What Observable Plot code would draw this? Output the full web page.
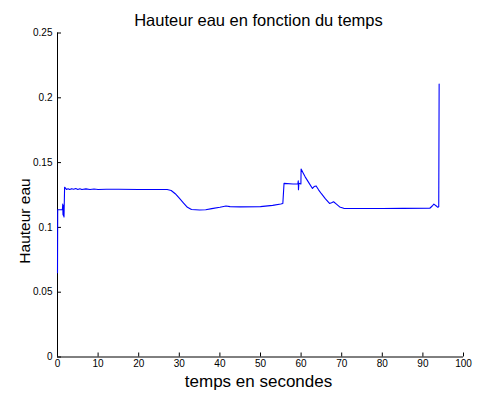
<!DOCTYPE html>
<html>
<head>
<meta charset="utf-8">
<script src="https://cdn.jsdelivr.net/npm/d3@7"></script>
<script src="https://cdn.jsdelivr.net/npm/@observablehq/plot@0.6"></script>
<style>
  html, body { margin: 0; padding: 0; background: #fff; }
  #chart { width: 478px; height: 398px; }
  svg { font-family: "Liberation Sans", Arial, Helvetica, sans-serif; }
</style>
</head>
<body>
<div id="chart"></div>
<script>
const title = "Hauteur eau en fonction du temps";
const xLabel = "temps en secondes";
const yLabel = "Hauteur eau";
const xTicks = [0, 10, 20, 30, 40, 50, 60, 70, 80, 90, 100];
const yTicks = [0, 0.05, 0.1, 0.15, 0.2, 0.25];

const temps = [
  0, 0.05, 0.3, 1.2, 1.3, 1.35, 1.4, 1.45, 1.5, 1.6, 1.75,
  2.2, 2.6, 3.0, 3.5, 4.0, 4.5, 5.0, 5.5, 6.0, 7.0, 8.0, 9.0, 10, 12, 15, 20, 25, 27,
  28, 29, 30, 31, 32, 33, 35, 36.5, 38, 40, 41.5, 42.5, 45, 50, 53, 55, 55.5,
  55.8, 58, 59.2, 59.3, 59.35, 59.45, 59.95, 60.0, 60.5, 61, 62, 62.8, 63.2, 63.7,
  64.3, 65, 66, 67, 67.5, 68, 68.7, 69.5, 70.5, 75, 80, 85, 91.7, 92.3, 92.7, 93.3,
  93.7, 93.9, 94.0
];
const hauteur = [
  0.065, 0.1136, 0.1136, 0.1136, 0.118, 0.110, 0.117, 0.109, 0.116, 0.108, 0.131,
  0.1293, 0.1298, 0.1292, 0.1299, 0.1294, 0.1300, 0.1293, 0.1298, 0.1292, 0.1297, 0.1292, 0.1296, 0.1293, 0.1294, 0.1294, 0.1293, 0.1293, 0.1292,
  0.1285, 0.126, 0.1225, 0.119, 0.1155, 0.1138, 0.1134, 0.1136, 0.1145, 0.1155, 0.1165, 0.116, 0.1158, 0.116, 0.117, 0.118, 0.1185,
  0.134, 0.1335, 0.1335, 0.136, 0.129, 0.134, 0.1335, 0.145, 0.142, 0.139, 0.134, 0.130, 0.1315, 0.132,
  0.129, 0.126, 0.122, 0.1185, 0.119, 0.1198, 0.118, 0.1158, 0.1147, 0.1146, 0.1146, 0.1147, 0.1148, 0.1165, 0.118, 0.1165,
  0.1155, 0.116, 0.2107
];
const data = temps.map((t, i) => ({t, h: hauteur[i]}));

const chart = Plot.plot({
  width: 478,
  height: 398,
  marginLeft: 57,
  marginRight: 15,
  marginTop: 32.5,
  marginBottom: 41.5,
  style: {fontFamily: '"Liberation Sans", Arial, sans-serif', background: "#fff"},
  x: {domain: [0, 100]},
  y: {domain: [0, 0.25]},
  marks: [
    Plot.axisX(xTicks, {tickSize: -4, tickPadding: 7, fontSize: 10, label: null, stroke: "#000", color: "#000"}),
    Plot.axisY(yTicks, {tickSize: -4, tickPadding: 9, fontSize: 10, label: null, tickFormat: d => String(d), stroke: "#000", color: "#000"}),
    Plot.ruleX([0], {stroke: "#000"}),
    Plot.ruleY([0], {stroke: "#000"}),
    Plot.line(data, {x: "t", y: "h", stroke: "#0000ff", strokeWidth: 1.1}),
    Plot.text([title], {frameAnchor: "top", dy: -7, lineAnchor: "bottom", fontSize: 16.5, fill: "#000", text: d => d, textAnchor: "middle", dx: -2}),
    Plot.text([xLabel], {frameAnchor: "bottom", dy: 30, lineAnchor: "bottom", fontSize: 17, fill: "#000", text: d => d, dx: -2}),
    Plot.text([yLabel], {frameAnchor: "left", textAnchor: "middle", dx: -28, dy: 26, rotate: -90, lineAnchor: "bottom", fontSize: 15.5, fill: "#000", text: d => d})
  ]
});
document.getElementById("chart").appendChild(chart);
</script>
</body>
</html>
